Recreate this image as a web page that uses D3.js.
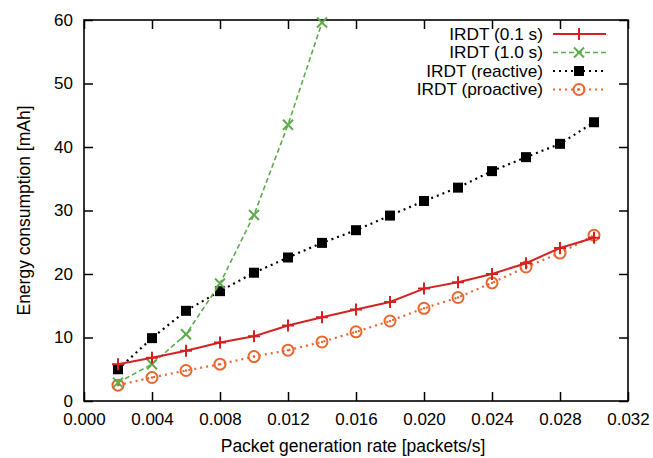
<!DOCTYPE html>
<html>
<head>
<meta charset="utf-8">
<script src="https://cdn.jsdelivr.net/npm/d3@7"></script>
<style>
  html, body { margin: 0; padding: 0; background: #fff; }
  svg { display: block; font-family: "Liberation Sans", Arial, sans-serif; }
</style>
</head>
<body>
<svg id="chart" width="653" height="458"></svg>
<script>
// ---- data ----
const rates = [0.002, 0.004, 0.006, 0.008, 0.010, 0.012, 0.014, 0.016, 0.018, 0.020, 0.022, 0.024, 0.026, 0.028, 0.030];
const irdt01 = [5.8, 6.8, 7.9, 9.2, 10.2, 11.9, 13.2, 14.4, 15.6, 17.7, 18.7, 20.0, 21.7, 24.1, 25.7];
const irdt10 = [2.9, 5.8, 10.5, 18.5, 29.3, 43.5, 59.6];
const irdtReactive = [5.0, 9.9, 14.2, 17.3, 20.2, 22.6, 24.9, 26.9, 29.2, 31.5, 33.6, 36.2, 38.4, 40.5, 43.9];
const irdtProactive = [2.5, 3.7, 4.8, 5.8, 7.0, 8.0, 9.3, 10.9, 12.6, 14.6, 16.3, 18.6, 21.1, 23.3, 26.1];
const seriesNames = ["IRDT (0.1 s)", "IRDT (1.0 s)", "IRDT (reactive)", "IRDT (proactive)"];
const xTicks = [0.000, 0.004, 0.008, 0.012, 0.016, 0.020, 0.024, 0.028, 0.032];
const yTicks = [0, 10, 20, 30, 40, 50, 60];
const xTitle = "Packet generation rate [packets/s]";
const yTitle = "Energy consumption [mAh]";

const series = [
  { name: seriesNames[0], values: irdt01, color: "#d42222", dash: null, width: 2, marker: "plus" },
  { name: seriesNames[1], values: irdt10, color: "#5dab4c", dash: "5,3", width: 1.6, marker: "cross" },
  { name: seriesNames[2], values: irdtReactive, color: "#000000", dash: "2,4", width: 2.2, marker: "square" },
  { name: seriesNames[3], values: irdtProactive, color: "#e8672e", dash: "2,4", width: 2.2, marker: "circle" }
];

// ---- layout ----
const svg = d3.select("#chart");
const L = 84, R = 628, T = 20, B = 401;
const x = d3.scaleLinear().domain([0, 0.032]).range([L, R]);
const y = d3.scaleLinear().domain([0, 60]).range([B, T]);

svg.append("defs").append("clipPath").attr("id", "clip")
  .append("rect").attr("x", L).attr("y", T - 6).attr("width", R - L).attr("height", B - T + 6);

// axes with inward ticks (gnuplot style, mirrored)
const fmtX = d3.format(".3f");
const axB = svg.append("g").attr("transform", `translate(0,${B})`)
  .call(d3.axisBottom(x).tickValues(xTicks).tickSize(-9).tickPadding(12).tickFormat(fmtX));
const axT = svg.append("g").attr("transform", `translate(0,${T})`)
  .call(d3.axisTop(x).tickValues(xTicks).tickSize(-9).tickFormat(""));
const axL = svg.append("g").attr("transform", `translate(${L},0)`)
  .call(d3.axisLeft(y).tickValues(yTicks).tickSize(-9).tickPadding(11).tickFormat(d3.format("d")));
const axR = svg.append("g").attr("transform", `translate(${R},0)`)
  .call(d3.axisRight(y).tickValues(yTicks).tickSize(-9).tickFormat(""));
[axB, axT, axL, axR].forEach(g => {
  g.select(".domain").remove();
  g.selectAll(".tick line").attr("stroke", "#000").attr("stroke-width", 1.5);
  g.selectAll(".tick text").attr("fill", "#000").attr("font-size", 17)
    .attr("font-family", "'Liberation Sans', Arial, sans-serif");
});
axB.selectAll(".tick text").attr("dy", "0.71em");

// frame
svg.append("rect").attr("x", L).attr("y", T).attr("width", R - L).attr("height", B - T)
  .attr("fill", "none").attr("stroke", "#000").attr("stroke-width", 1.6);

// titles
svg.append("text").attr("x", (L + R) / 2 - 3).attr("y", 452).attr("text-anchor", "middle")
  .attr("font-size", 17.5).attr("fill", "#000").text(xTitle);
svg.append("text").attr("transform", `translate(30,${(T + B) / 2}) rotate(-90)`)
  .attr("text-anchor", "middle").attr("font-size", 17.5).attr("fill", "#000").text(yTitle);

// markers
function drawMarker(g, type, cx, cy, color) {
  if (type === "plus") {
    g.append("path").attr("d", `M${cx - 6},${cy}H${cx + 6}M${cx},${cy - 6}V${cy + 6}`)
      .attr("stroke", color).attr("stroke-width", 2).attr("fill", "none");
  } else if (type === "cross") {
    g.append("path").attr("d", `M${cx - 5},${cy - 5}L${cx + 5},${cy + 5}M${cx - 5},${cy + 5}L${cx + 5},${cy - 5}`)
      .attr("stroke", color).attr("stroke-width", 2).attr("fill", "none");
  } else if (type === "square") {
    g.append("rect").attr("x", cx - 5).attr("y", cy - 5).attr("width", 10).attr("height", 10)
      .attr("fill", color);
  } else if (type === "circle") {
    g.append("circle").attr("cx", cx).attr("cy", cy).attr("r", 5.5)
      .attr("fill", "none").attr("stroke", color).attr("stroke-width", 2);
    g.append("circle").attr("cx", cx).attr("cy", cy).attr("r", 1.2).attr("fill", color);
  }
}

const plot = svg.append("g").attr("clip-path", "url(#clip)");
const line = d3.line().x(d => x(d[0])).y(d => y(d[1]));
// draw in reverse order so red is on top
series.slice().reverse().forEach(s => {
  const pts = s.values.map((v, i) => [rates[i], v]);
  plot.append("path").datum(pts).attr("d", line)
    .attr("fill", "none").attr("stroke", s.color).attr("stroke-width", s.width)
    .attr("stroke-dasharray", s.dash);
  const mg = plot.append("g");
  pts.forEach(p => drawMarker(mg, s.marker, x(p[0]), y(p[1]), s.color));
});

// legend
const legRowY = [34, 52.5, 71, 89.5];
const lg = svg.append("g");
series.forEach((s, i) => {
  const yy = legRowY[i];
  lg.append("text").attr("x", 543).attr("y", yy).attr("dy", "0.35em").attr("text-anchor", "end")
    .attr("font-size", 16).attr("transform", `translate(543,0) scale(1.08,1) translate(-543,0)`)
    .attr("fill", "#000").text(s.name);
  lg.append("line").attr("x1", 553).attr("x2", 606).attr("y1", yy).attr("y2", yy)
    .attr("stroke", s.color).attr("stroke-width", s.width).attr("stroke-dasharray", s.dash);
  drawMarker(lg, s.marker, 579, yy, s.color);
});
</script>
</body>
</html>
